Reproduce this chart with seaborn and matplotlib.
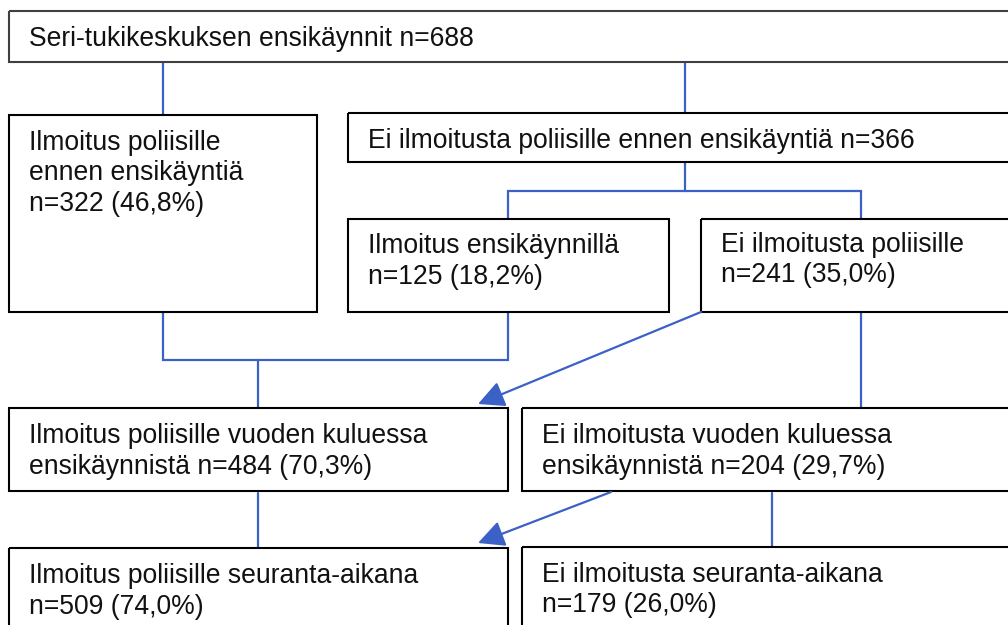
import matplotlib
matplotlib.use("Agg")
import matplotlib.pyplot as plt
import seaborn as sns
from matplotlib.patches import Rectangle

# Laatikoiden tekstit (rivi kerrallaan)
top_text = ["Seri-tukikeskuksen ensikäynnit n=688"]
before_text = ["Ilmoitus poliisille", "ennen ensikäyntiä", "n=322 (46,8%)"]
no_before_text = ["Ei ilmoitusta poliisille ennen ensikäyntiä n=366"]
at_visit_text = ["Ilmoitus ensikäynnillä", "n=125 (18,2%)"]
no_report_text = ["Ei ilmoitusta poliisille", "n=241 (35,0%)"]
year_text = ["Ilmoitus poliisille vuoden kuluessa", "ensikäynnistä n=484 (70,3%)"]
no_year_text = ["Ei ilmoitusta vuoden kuluessa", "ensikäynnistä n=204 (29,7%)"]
follow_text = ["Ilmoitus poliisille seuranta-aikana", "n=509 (74,0%)"]
no_follow_text = ["Ei ilmoitusta seuranta-aikana", "n=179 (26,0%)"]

sns.set_theme(style="white")
plt.rcParams["font.family"] = ["Liberation Sans", "DejaVu Sans"]

W, H = 1008, 625
fig = plt.figure(figsize=(W / 100, H / 100), dpi=100)
ax = fig.add_axes([0, 0, 1, 1])
ax.set_xlim(0, W)
ax.set_ylim(H, 0)
ax.axis("off")

blue = "#3C61C6"
fs = 19.1

# laatikko: (x0, y0, x1, y1), ensimmäisen rivin perusviiva (None = keskitetty)
boxes = [
    (top_text, (9, 11, 1015, 62), None, "#404040"),
    (before_text, (9, 115, 317, 312), 150, "black"),
    (no_before_text, (348, 113, 1015, 162), None, "black"),
    (at_visit_text, (348, 219, 669, 312), 253, "black"),
    (no_report_text, (701, 219, 1015, 312), 252, "black"),
    (year_text, (9, 408, 508, 491), 443, "black"),
    (no_year_text, (522, 408, 1015, 491), 443, "black"),
    (follow_text, (9, 548, 508, 640), 583, "black"),
    (no_follow_text, (522, 547, 1015, 640), 582, "black"),
]

line_gap = 30.5
for lines, (x0, y0, x1, y1), base, ec in boxes:
    ax.add_patch(Rectangle((x0, y0), x1 - x0, y1 - y0, fill=False,
                           edgecolor=ec, linewidth=1.5, zorder=3))
    if base is None:
        ax.text(x0 + 20, (y0 + y1) / 2, lines[0], fontsize=fs,
                va="center_baseline", ha="left", color="#111111", zorder=4)
    else:
        for i, ln in enumerate(lines):
            ax.text(x0 + 20, base + i * line_gap, ln, fontsize=fs,
                    va="baseline", ha="left", color="#111111", zorder=4)

# yhdysviivat
segs = [
    [(163, 62), (163, 115)],
    [(685, 62), (685, 113)],
    [(685, 162), (685, 191), (508, 191), (508, 219)],
    [(685, 191), (861, 191), (861, 219)],
    [(163, 312), (163, 360), (508, 360), (508, 312)],
    [(258, 360), (258, 408)],
    [(861, 312), (861, 408)],
    [(258, 493), (258, 547)],
    [(772, 493), (772, 547)],
]
for s in segs:
    xs, ys = zip(*s)
    ax.plot(xs, ys, color=blue, lw=1.6, solid_joinstyle="miter", zorder=2)

# nuolet
for start, end in [((701, 312), (478, 404)), ((611, 492), (478, 543))]:
    ax.annotate("", xy=end, xytext=start,
                arrowprops=dict(arrowstyle="-|>,head_length=1.0,head_width=0.5",
                                color=blue, lw=1.6, shrinkA=0, shrinkB=0,
                                mutation_scale=16))

fig.savefig("out.png", dpi=100, facecolor="white")
